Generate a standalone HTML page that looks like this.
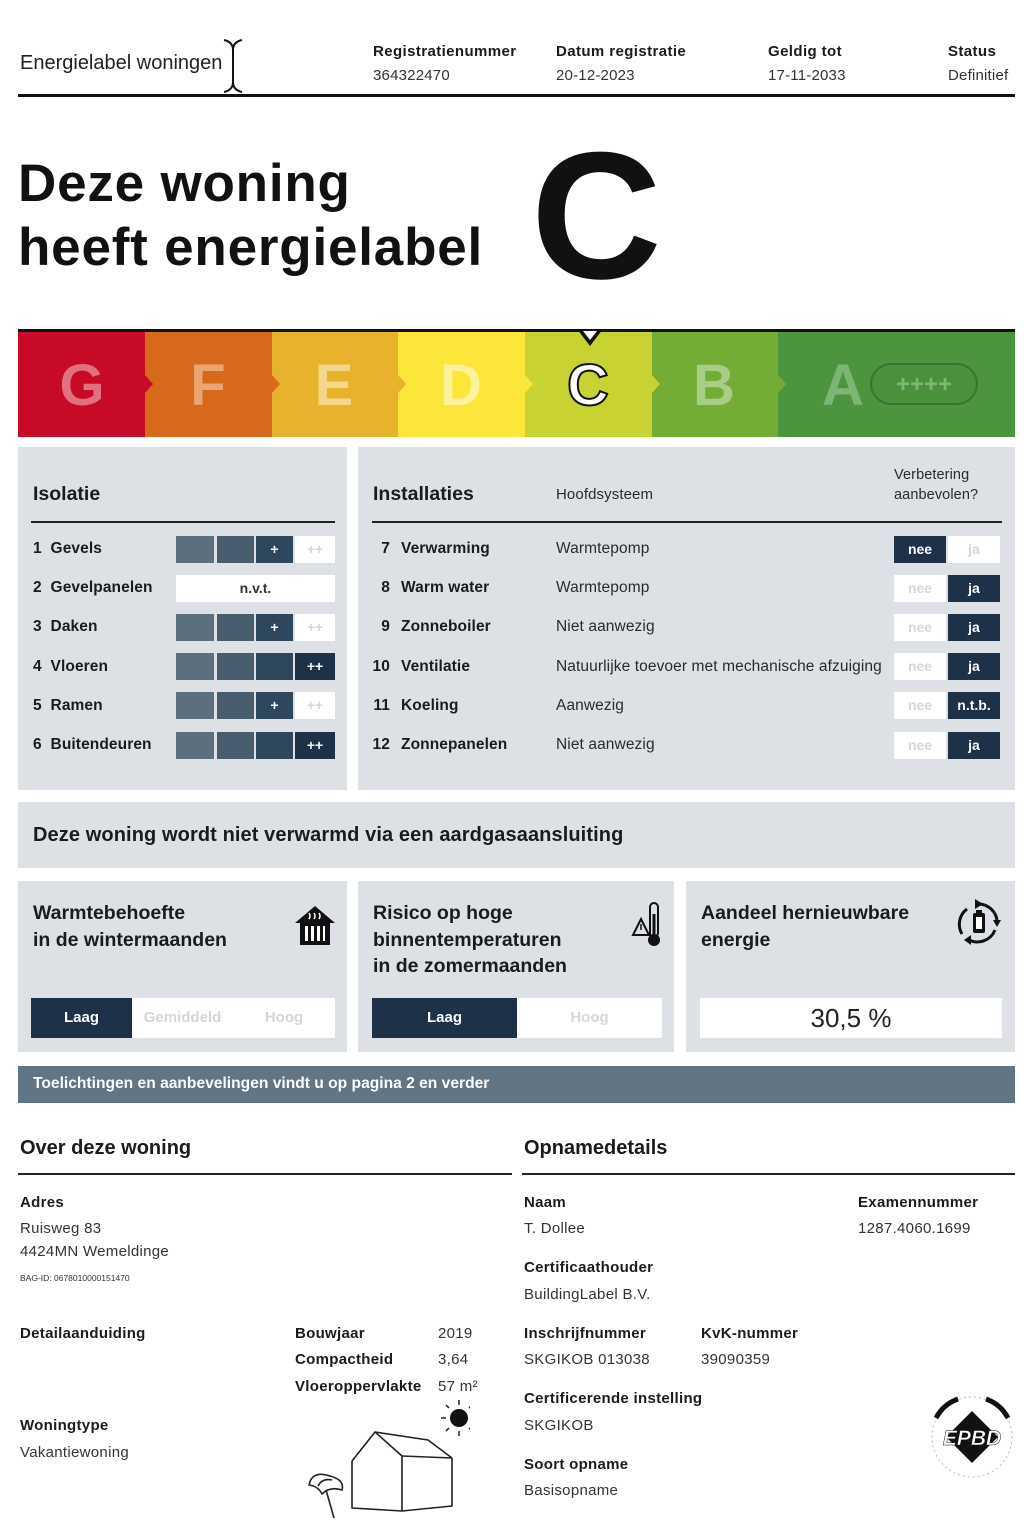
<!DOCTYPE html>
<html><head><meta charset="utf-8">
<style>
html,body{margin:0;padding:0}
body{width:1024px;height:1536px;position:relative;background:#fff;font-family:"Liberation Sans",Arial,sans-serif;color:#1b1b1b;overflow:hidden}
.a{position:absolute;white-space:nowrap}
.t{position:absolute;white-space:nowrap;height:20px;line-height:20px}
.b{font-weight:bold}
.hl{font-size:15px;letter-spacing:.4px;font-weight:bold}
.hv{font-size:15px;letter-spacing:.2px;color:#333}
.p{position:absolute;background:#dde1e5}
.ln{position:absolute;height:2px;background:#222}
.rl{font-size:15.5px;font-weight:bold;letter-spacing:.1px}
.rv{font-size:15.5px;color:#2a2a2a;letter-spacing:.1px}
.c{position:absolute;height:27px;line-height:27px;text-align:center;font-weight:bold;font-size:14px;color:#fff}
.c1{background:#5b6f7f}.c2{background:#485d6e}.c3{background:#2f475c}.c4{background:#1d3249}
.w{background:#fff;color:#d4d7db}
.ttl{font-size:19.5px;font-weight:bold}
.bl{font-size:15px;font-weight:bold;letter-spacing:.3px}
.bv{font-size:15px;color:#333;letter-spacing:.3px}
</style></head><body>

<!-- Header -->
<div class="t" style="left:20px;top:53px;font-size:20px;color:#222">Energielabel woningen</div>
<svg class="a" style="left:220px;top:38px" width="26" height="56" viewBox="0 0 26 56">
<path d="M4,2 Q13,4 13,12 Q13,4 22,2" fill="none" stroke="#111" stroke-width="2"/>
<line x1="13" y1="11" x2="13" y2="45" stroke="#111" stroke-width="2"/>
<path d="M4,54 Q13,52 13,44 Q13,52 22,54" fill="none" stroke="#111" stroke-width="2"/>
</svg>
<div class="t hl" style="left:373px;top:42px">Registratienummer</div>
<div class="t hv" style="left:373px;top:66px">364322470</div>
<div class="t hl" style="left:556px;top:42px">Datum registratie</div>
<div class="t hv" style="left:556px;top:66px">20-12-2023</div>
<div class="t hl" style="left:768px;top:42px">Geldig tot</div>
<div class="t hv" style="left:768px;top:66px">17-11-2033</div>
<div class="t hl" style="left:948px;top:42px">Status</div>
<div class="t hv" style="left:948px;top:66px">Definitief</div>
<div class="a" style="left:18px;top:94px;width:997px;height:3px;background:#111"></div>

<!-- Title -->
<div class="a b" style="left:18px;top:157px;font-size:53px;line-height:53px;letter-spacing:.8px;color:#111">Deze woning</div>
<div class="a b" style="left:18px;top:221px;font-size:53px;line-height:53px;letter-spacing:.8px;color:#111">heeft energielabel</div>
<div class="a b" style="left:531px;top:126px;font-size:181px;line-height:181px;color:#111">C</div>

<!-- Energy bar -->
<svg class="a" style="left:0;top:320px" width="1024" height="125" viewBox="0 0 1024 125">
<rect x="18" y="12" width="127" height="105" fill="#c70a25"/>
<rect x="145" y="12" width="127" height="105" fill="#d6691c"/>
<rect x="272" y="12" width="126" height="105" fill="#e9b22d"/>
<rect x="398" y="12" width="127" height="105" fill="#fce63a"/>
<rect x="525" y="12" width="127" height="105" fill="#c8d232"/>
<rect x="652" y="12" width="126" height="105" fill="#74ad36"/>
<rect x="778" y="12" width="237" height="105" fill="#4d943f"/>
<polygon points="145,55 153,64 145,73" fill="#c70a25"/>
<polygon points="272,55 280,64 272,73" fill="#d6691c"/>
<polygon points="398,55 406,64 398,73" fill="#e9b22d"/>
<polygon points="525,55 533,64 525,73" fill="#fce63a"/>
<polygon points="652,55 660,64 652,73" fill="#c8d232"/>
<polygon points="778,55 786,64 778,73" fill="#74ad36"/>
<rect x="18" y="9" width="997" height="3" fill="#111"/>
<polygon points="577,9 603,9 590,26" fill="#111"/>
<polygon points="583,11 597,11 590,20" fill="#fff"/>
<g font-family="Liberation Sans, Arial, sans-serif" font-weight="bold" font-size="58" text-anchor="middle">
<text x="82" y="85" fill="#e2707f">G</text>
<text x="208" y="85" fill="#eca571">F</text>
<text x="334" y="85" fill="#f5d78c">E</text>
<text x="461" y="85" fill="#fdf19c">D</text>
<text x="588" y="85" fill="#fff" stroke="#111" stroke-width="2">C</text>
<text x="714" y="85" fill="#a8cd86">B</text>
<text x="843" y="85" fill="#7db574">A</text>
</g>
<rect x="871" y="44" width="106" height="40" rx="20" fill="#4a903d" stroke="#3a7430" stroke-width="2"/>
<text x="924" y="72" font-family="Liberation Sans, Arial, sans-serif" font-weight="bold" font-size="24" fill="#7fb676" text-anchor="middle">++++</text>
</svg>

<!-- Isolatie panel -->
<div class="p" style="left:18px;top:447px;width:329px;height:343px"></div>
<div class="t ttl" style="left:33px;top:484px">Isolatie</div>
<div class="ln" style="left:31px;top:521px;width:304px"></div>

<div class="t rl" style="left:33px;top:539px">1&nbsp; Gevels</div>
<div class="c c1" style="left:176px;top:536px;width:38px"></div>
<div class="c c2" style="left:217px;top:536px;width:37px"></div>
<div class="c c3" style="left:256px;top:536px;width:37px">+</div>
<div class="c w" style="left:295px;top:536px;width:40px">++</div>

<div class="t rl" style="left:33px;top:578px">2&nbsp; Gevelpanelen</div>
<div class="c" style="left:176px;top:575px;width:159px;background:#fff;color:#333">n.v.t.</div>

<div class="t rl" style="left:33px;top:617px">3&nbsp; Daken</div>
<div class="c c1" style="left:176px;top:614px;width:38px"></div>
<div class="c c2" style="left:217px;top:614px;width:37px"></div>
<div class="c c3" style="left:256px;top:614px;width:37px">+</div>
<div class="c w" style="left:295px;top:614px;width:40px">++</div>

<div class="t rl" style="left:33px;top:657px">4&nbsp; Vloeren</div>
<div class="c c1" style="left:176px;top:653px;width:38px"></div>
<div class="c c2" style="left:217px;top:653px;width:37px"></div>
<div class="c c3" style="left:256px;top:653px;width:37px"></div>
<div class="c c4" style="left:295px;top:653px;width:40px">++</div>

<div class="t rl" style="left:33px;top:696px">5&nbsp; Ramen</div>
<div class="c c1" style="left:176px;top:692px;width:38px"></div>
<div class="c c2" style="left:217px;top:692px;width:37px"></div>
<div class="c c3" style="left:256px;top:692px;width:37px">+</div>
<div class="c w" style="left:295px;top:692px;width:40px">++</div>

<div class="t rl" style="left:33px;top:735px">6&nbsp; Buitendeuren</div>
<div class="c c1" style="left:176px;top:732px;width:38px"></div>
<div class="c c2" style="left:217px;top:732px;width:37px"></div>
<div class="c c3" style="left:256px;top:732px;width:37px"></div>
<div class="c c4" style="left:295px;top:732px;width:40px">++</div>

<!-- Installaties panel -->
<div class="p" style="left:358px;top:447px;width:657px;height:343px"></div>
<div class="t ttl" style="left:373px;top:484px">Installaties</div>
<div class="t rv" style="left:556px;top:485px;font-size:15px">Hoofdsysteem</div>
<div class="t rv" style="left:894px;top:465px;font-size:14.5px">Verbetering</div>
<div class="t rv" style="left:894px;top:485px;font-size:14.5px">aanbevolen?</div>
<div class="ln" style="left:372px;top:521px;width:630px"></div>

<div class="t rl" style="left:360px;top:539px;width:30px;text-align:right">7</div>
<div class="t rl" style="left:401px;top:539px">Verwarming</div>
<div class="t rv" style="left:556px;top:539px">Warmtepomp</div>
<div class="c c4" style="left:894px;top:536px;width:52px">nee</div>
<div class="c w" style="left:948px;top:536px;width:52px">ja</div>

<div class="t rl" style="left:360px;top:578px;width:30px;text-align:right">8</div>
<div class="t rl" style="left:401px;top:578px">Warm water</div>
<div class="t rv" style="left:556px;top:578px">Warmtepomp</div>
<div class="c w" style="left:894px;top:575px;width:52px">nee</div>
<div class="c c4" style="left:948px;top:575px;width:52px">ja</div>

<div class="t rl" style="left:360px;top:617px;width:30px;text-align:right">9</div>
<div class="t rl" style="left:401px;top:617px">Zonneboiler</div>
<div class="t rv" style="left:556px;top:617px">Niet aanwezig</div>
<div class="c w" style="left:894px;top:614px;width:52px">nee</div>
<div class="c c4" style="left:948px;top:614px;width:52px">ja</div>

<div class="t rl" style="left:360px;top:657px;width:30px;text-align:right">10</div>
<div class="t rl" style="left:401px;top:657px">Ventilatie</div>
<div class="t rv" style="left:556px;top:657px">Natuurlijke toevoer met mechanische afzuiging</div>
<div class="c w" style="left:894px;top:653px;width:52px">nee</div>
<div class="c c4" style="left:948px;top:653px;width:52px">ja</div>

<div class="t rl" style="left:360px;top:696px;width:30px;text-align:right">11</div>
<div class="t rl" style="left:401px;top:696px">Koeling</div>
<div class="t rv" style="left:556px;top:696px">Aanwezig</div>
<div class="c w" style="left:894px;top:692px;width:52px">nee</div>
<div class="c c4" style="left:948px;top:692px;width:52px">n.t.b.</div>

<div class="t rl" style="left:360px;top:735px;width:30px;text-align:right">12</div>
<div class="t rl" style="left:401px;top:735px">Zonnepanelen</div>
<div class="t rv" style="left:556px;top:735px">Niet aanwezig</div>
<div class="c w" style="left:894px;top:732px;width:52px">nee</div>
<div class="c c4" style="left:948px;top:732px;width:52px">ja</div>

<!-- Gas panel -->
<div class="p" style="left:18px;top:802px;width:997px;height:66px"></div>
<div class="t b" style="left:33px;top:825px;font-size:20px;letter-spacing:.1px">Deze woning wordt niet verwarmd via een aardgasaansluiting</div>

<!-- Three panels -->
<div class="p" style="left:18px;top:881px;width:329px;height:171px"></div>
<div class="p" style="left:358px;top:881px;width:316px;height:171px"></div>
<div class="p" style="left:686px;top:881px;width:329px;height:171px"></div>

<div class="t ttl" style="left:33px;top:903px">Warmtebehoefte</div>
<div class="t ttl" style="left:33px;top:930px">in de wintermaanden</div>
<svg class="a" style="left:293px;top:903px" width="44" height="44" viewBox="0 0 44 44">
<path d="M2,20 L22,3 L42,20 Z" fill="#111"/>
<rect x="7" y="19" width="30" height="23" fill="#111"/>
<path d="M16,16 q2,-3 0,-6 M21,16 q2,-3 0,-6 M26,16 q2,-3 0,-6" stroke="#fff" stroke-width="1.5" fill="none"/>
<rect x="12" y="23" width="20" height="15" fill="#fff"/>
<rect x="15" y="23" width="3" height="15" fill="#111"/>
<rect x="21" y="23" width="3" height="15" fill="#111"/>
<rect x="27" y="23" width="3" height="15" fill="#111"/>
</svg>
<div class="c c4" style="left:31px;top:998px;width:101px;height:40px;line-height:40px;font-size:15px">Laag</div>
<div class="c w" style="left:132px;top:998px;width:101px;height:40px;line-height:40px;font-size:15px">Gemiddeld</div>
<div class="c w" style="left:233px;top:998px;width:102px;height:40px;line-height:40px;font-size:15px">Hoog</div>

<div class="t ttl" style="left:373px;top:903px">Risico op hoge</div>
<div class="t ttl" style="left:373px;top:930px">binnentemperaturen</div>
<div class="t ttl" style="left:373px;top:956px">in de zomermaanden</div>
<svg class="a" style="left:630px;top:900px" width="34" height="48" viewBox="0 0 34 48">
<polygon points="3,35 11,19 19,35" fill="none" stroke="#111" stroke-width="2"/>
<line x1="11" y1="24" x2="11" y2="30" stroke="#111" stroke-width="1.5"/>
<rect x="20" y="3" width="8" height="34" rx="4" fill="none" stroke="#111" stroke-width="2"/>
<line x1="24" y1="14" x2="24" y2="38" stroke="#111" stroke-width="3"/>
<circle cx="24" cy="40" r="6" fill="#111"/>
</svg>
<div class="c c4" style="left:372px;top:998px;width:145px;height:40px;line-height:40px;font-size:15px">Laag</div>
<div class="c w" style="left:517px;top:998px;width:145px;height:40px;line-height:40px;font-size:15px">Hoog</div>

<div class="t ttl" style="left:701px;top:903px">Aandeel hernieuwbare</div>
<div class="t ttl" style="left:701px;top:930px">energie</div>
<svg class="a" style="left:955px;top:898px" width="48" height="50" viewBox="0 0 48 50">
<path d="M24,6 A19,19 0 0 1 42,22" fill="none" stroke="#111" stroke-width="3"/>
<path d="M40,32 A19,19 0 0 1 14,42" fill="none" stroke="#111" stroke-width="3"/>
<path d="M7,36 A19,19 0 0 1 12,11" fill="none" stroke="#111" stroke-width="3"/>
<polygon points="20,1 28,6 20,11" fill="#111"/>
<polygon points="38,22 46,22 42,29" fill="#111"/>
<polygon points="16,37 16,47 9,42" fill="#111"/>
<rect x="18" y="15" width="12" height="20" rx="2" fill="#111"/>
<rect x="21" y="12" width="6" height="4" fill="#111"/>
<rect x="21" y="19" width="6" height="12" fill="#fff"/>
</svg>
<div class="a" style="left:700px;top:998px;width:302px;height:40px;line-height:40px;background:#fff;text-align:center;font-size:26px;color:#222">30,5 %</div>

<!-- Band -->
<div class="a" style="left:18px;top:1066px;width:997px;height:37px;background:#617584"></div>
<div class="t b" style="left:33px;top:1074px;font-size:15.6px;color:#fff">Toelichtingen en aanbevelingen vindt u op pagina 2 en verder</div>

<!-- Over deze woning -->
<div class="t b" style="left:20px;top:1138px;font-size:20px">Over deze woning</div>
<div class="ln" style="left:18px;top:1173px;width:494px"></div>
<div class="t bl" style="left:20px;top:1193px">Adres</div>
<div class="t bv" style="left:20px;top:1219px">Ruisweg 83</div>
<div class="t bv" style="left:20px;top:1242px">4424MN Wemeldinge</div>
<div class="t bv" style="left:20px;top:1268px;font-size:8.5px;letter-spacing:0">BAG-ID: 0678010000151470</div>
<div class="t bl" style="left:20px;top:1324px">Detailaanduiding</div>
<div class="t bl" style="left:295px;top:1324px">Bouwjaar</div>
<div class="t bv" style="left:438px;top:1324px">2019</div>
<div class="t bl" style="left:295px;top:1350px">Compactheid</div>
<div class="t bv" style="left:438px;top:1350px">3,64</div>
<div class="t bl" style="left:295px;top:1377px">Vloeroppervlakte</div>
<div class="t bv" style="left:438px;top:1377px">57 m²</div>
<div class="t bl" style="left:20px;top:1416px">Woningtype</div>
<div class="t bv" style="left:20px;top:1443px">Vakantiewoning</div>

<svg class="a" style="left:290px;top:1390px" width="180" height="135" viewBox="290 1390 180 135">
<g fill="none" stroke="#222" stroke-width="1.6" stroke-linejoin="round">
<path d="M352,1461 L375,1432 L402,1456"/>
<path d="M375,1432 L428,1440 L452,1458"/>
<path d="M402,1456 L452,1458"/>
<path d="M352,1461 L352,1508 L402,1511 L452,1506 L452,1458"/>
<path d="M402,1456 L402,1511"/>
<path d="M309,1485 Q312,1470 330,1476 Q345,1480 342,1490 Q330,1486 322,1494 Q318,1486 309,1485 Z"/>
<path d="M318,1486 Q322,1478 332,1480"/>
<path d="M326,1490 L334,1518"/>
</g>
<circle cx="459" cy="1418" r="9" fill="#111"/>
<g stroke="#222" stroke-width="1.5">
<line x1="459" y1="1400" x2="459" y2="1405"/>
<line x1="459" y1="1431" x2="459" y2="1436"/>
<line x1="441" y1="1418" x2="446" y2="1418"/>
<line x1="472" y1="1418" x2="477" y2="1418"/>
<line x1="446" y1="1405" x2="449" y2="1408"/>
<line x1="469" y1="1428" x2="472" y2="1431"/>
<line x1="446" y1="1431" x2="449" y2="1428"/>
<line x1="469" y1="1408" x2="472" y2="1405"/>
</g>
</svg>

<!-- Opnamedetails -->
<div class="t b" style="left:524px;top:1138px;font-size:20px">Opnamedetails</div>
<div class="ln" style="left:522px;top:1173px;width:493px"></div>
<div class="t bl" style="left:524px;top:1193px">Naam</div>
<div class="t bv" style="left:524px;top:1219px">T. Dollee</div>
<div class="t bl" style="left:858px;top:1193px">Examennummer</div>
<div class="t bv" style="left:858px;top:1219px">1287.4060.1699</div>
<div class="t bl" style="left:524px;top:1258px">Certificaathouder</div>
<div class="t bv" style="left:524px;top:1285px">BuildingLabel B.V.</div>
<div class="t bl" style="left:524px;top:1324px">Inschrijfnummer</div>
<div class="t bv" style="left:524px;top:1350px">SKGIKOB 013038</div>
<div class="t bl" style="left:701px;top:1324px">KvK-nummer</div>
<div class="t bv" style="left:701px;top:1350px">39090359</div>
<div class="t bl" style="left:524px;top:1389px">Certificerende instelling</div>
<div class="t bv" style="left:524px;top:1416px">SKGIKOB</div>
<div class="t bl" style="left:524px;top:1455px">Soort opname</div>
<div class="t bv" style="left:524px;top:1481px">Basisopname</div>

<svg class="a" style="left:920px;top:1385px" width="100" height="100" viewBox="920 1385 100 100">
<circle cx="972" cy="1437" r="40" fill="none" stroke="#bbb" stroke-width="1" stroke-dasharray="2,3"/>
<path d="M936,1418 A40,40 0 0 1 958,1399" fill="none" stroke="#111" stroke-width="5"/>
<path d="M986,1399 A40,40 0 0 1 1008,1418" fill="none" stroke="#111" stroke-width="5"/>
<polygon points="972,1411 998,1437 972,1463 946,1437" fill="#111"/>
<text x="972" y="1445" text-anchor="middle" font-family="Liberation Sans, Arial, sans-serif" font-weight="bold" font-style="italic" font-size="21" fill="#fff" stroke="#111" stroke-width=".5">EPBD</text>
</svg>

</body></html>
